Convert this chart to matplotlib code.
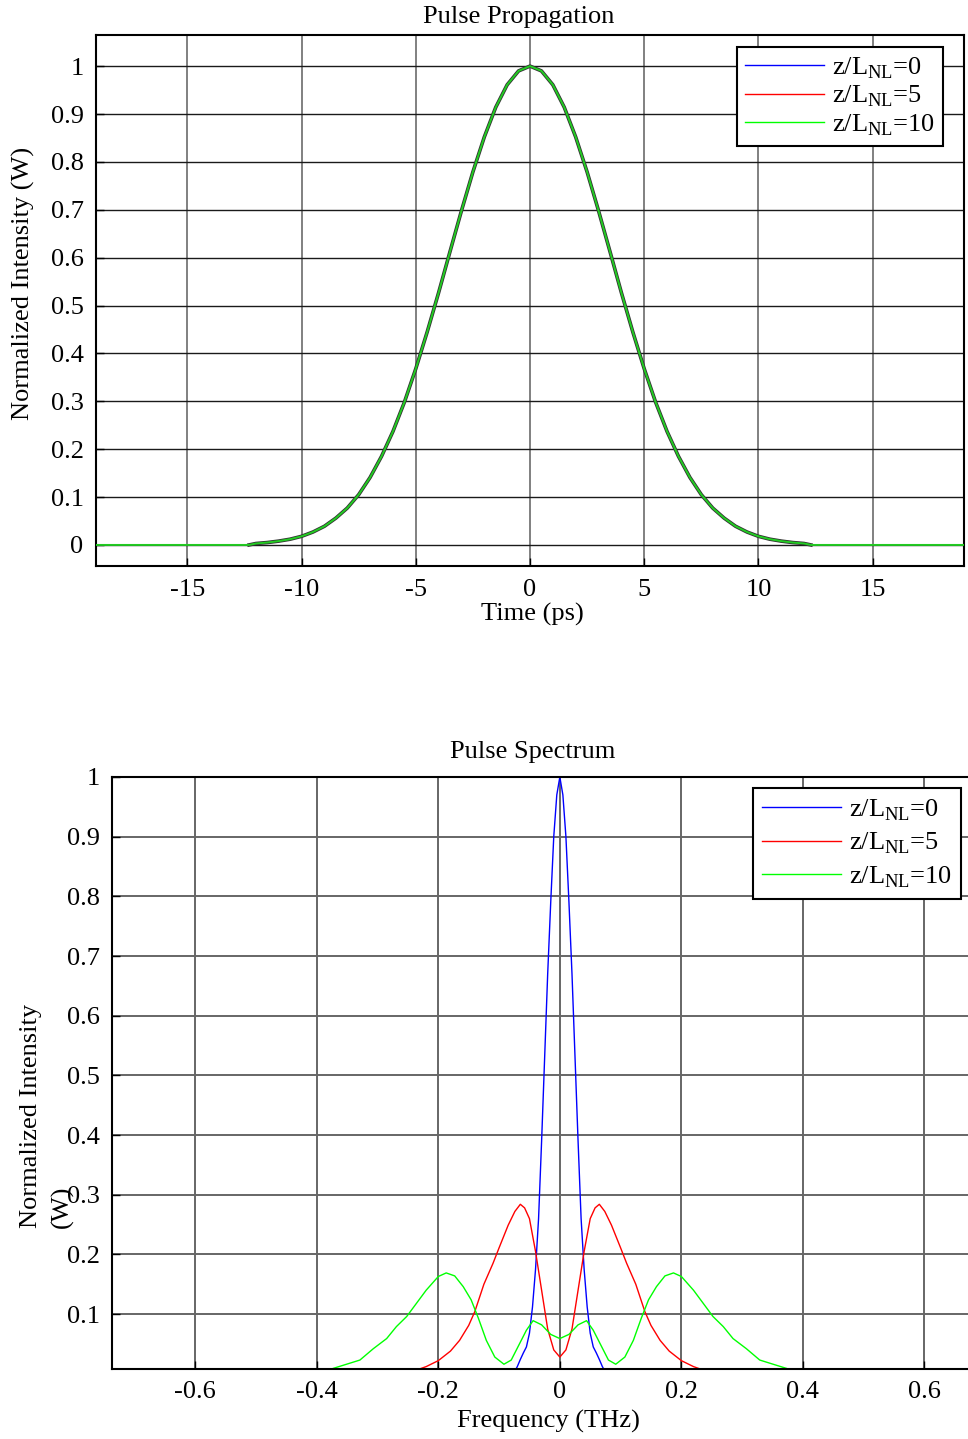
import numpy as np
import matplotlib
matplotlib.use("Agg")
import matplotlib.pyplot as plt

plt.rcParams['font.family'] = ['Liberation Serif', 'DejaVu Serif']
plt.rcParams['mathtext.fontset'] = 'custom'
plt.rcParams['mathtext.rm'] = 'Liberation Serif'

# ---- data (curves are symmetric, so half + mirror) ----
t_half = [0, 0.5, 1, 1.5, 2, 2.5, 3, 3.5, 4, 4.5, 5, 5.5, 6, 6.5, 7, 7.5,
          8, 8.5, 9, 9.5, 10, 10.5, 11, 11.5, 12, 12.3]
p_half = [1.0, 0.990, 0.961, 0.914, 0.852, 0.779, 0.698, 0.613, 0.527, 0.445,
          0.368, 0.298, 0.237, 0.185, 0.141, 0.105, 0.077, 0.056, 0.039, 0.027,
          0.018, 0.012, 0.008, 0.005, 0.003, 0.0]
t_edge = [19.0]   # the z/LNL=10 trace runs on flat to the window edge
p_edge = [0.0]

f_blue = [0, 0.005, 0.01, 0.015, 0.02, 0.025, 0.03, 0.035, 0.04, 0.045,
          0.05, 0.055, 0.06, 0.065, 0.07, 0.075]
s_blue = [1.0, 0.97, 0.90, 0.79, 0.67, 0.53, 0.39, 0.26, 0.175, 0.112,
          0.068, 0.045, 0.035, 0.024, 0.012, 0.003]

f_red = [0, 0.01, 0.02, 0.03, 0.04, 0.05, 0.058, 0.065, 0.074, 0.085, 0.10,
         0.11, 0.125, 0.14, 0.15, 0.165, 0.18, 0.20, 0.22, 0.242]
s_red = [0.028, 0.040, 0.075, 0.14, 0.205, 0.26, 0.278, 0.284, 0.272, 0.249,
         0.211, 0.185, 0.150, 0.104, 0.081, 0.056, 0.038, 0.022, 0.012, 0.004]

f_green = [0, 0.015, 0.03, 0.044, 0.055, 0.066, 0.08, 0.092, 0.107, 0.121,
           0.134, 0.146, 0.159, 0.173, 0.187, 0.20, 0.22, 0.236, 0.252, 0.269,
           0.285, 0.307, 0.329, 0.351, 0.373, 0.389]
s_green = [0.059, 0.066, 0.082, 0.089, 0.073, 0.051, 0.023, 0.016, 0.028, 0.056,
           0.093, 0.124, 0.146, 0.164, 0.169, 0.163, 0.140, 0.118, 0.096, 0.079,
           0.059, 0.042, 0.023, 0.016, 0.009, 0.003]

labels = [r'z/L$_{\rm NL}$=0', r'z/L$_{\rm NL}$=5', r'z/L$_{\rm NL}$=10']
colors = ['#0000ff', '#ff0000', '#00ff00']
t_ticks = [-15, -10, -5, 0, 5, 10, 15]
f_ticks = [-0.6, -0.4, -0.2, 0, 0.2, 0.4, 0.6]


def mirror(x, y):
    x = np.asarray(x, float)
    y = np.asarray(y, float)
    return np.concatenate([-x[::-1], x[1:]]), np.concatenate([y[::-1], y[1:]])


def tick_label(v):
    return f"{v:g}"


FS = 19
W, H = 968, 1439
fig = plt.figure(figsize=(W / 100, H / 100), dpi=100)

# ---------------- top: pulse propagation ----------------
ax1 = fig.add_axes([96 / W, 1 - 566 / H, 868 / W, 531 / H])
t, p = mirror(t_half, p_half)
tg, pg = mirror(t_half + t_edge, p_half + p_edge)
# the three traces sit on top of each other; dark rim + green core like the original
ax1.plot(t, p, color='#333333', lw=2.6, zorder=3)
ax1.plot(t, p, color=colors[0], lw=0.1, label=labels[0], zorder=3)
ax1.plot(t, p, color=colors[1], lw=0.1, label=labels[1], zorder=3)
ax1.plot(tg, pg, color='#22cc22', lw=1.4, label=labels[2], zorder=4)
ax1.set_xlim(-19, 19)
ax1.set_ylim(-0.044, 1.065)
ax1.set_xticks(t_ticks)
ax1.set_xticklabels([tick_label(v) for v in t_ticks])
yt1 = np.round(np.arange(0, 1.01, 0.1), 1)
ax1.set_yticks(yt1)
ax1.set_yticklabels([tick_label(v) for v in yt1])
ax1.xaxis.grid(True, color='0.5', lw=1.4)
ax1.yaxis.grid(True, color='0.1', lw=1.0)
ax1.set_axisbelow(True)
leg1 = ax1.legend(loc='upper right', bbox_to_anchor=(0.976, 0.977), borderaxespad=0,
                  fontsize=FS, fancybox=False, edgecolor='black', framealpha=1,
                  handlelength=3.0, handletextpad=0.3, labelspacing=0.12,
                  borderpad=0.3)
leg1.get_frame().set_linewidth(1.5)
for line, c in zip(leg1.get_lines(), colors):
    line.set_color(c)
    line.set_linewidth(1.0)

# ---------------- bottom: pulse spectrum ----------------
ax2 = fig.add_axes([112 / W, 1 - 1369 / H, 858 / W, 592 / H])
for fx, sy, c, lab in [(f_blue, s_blue, colors[0], labels[0]),
                       (f_red, s_red, colors[1], labels[1]),
                       (f_green, s_green, colors[2], labels[2])]:
    xx, yy = mirror(fx, sy)
    ax2.plot(xx, yy, color=c, lw=1.0, label=lab)
ax2.set_xlim(-0.737, 0.675)
ax2.set_ylim(0.008, 1.0)
ax2.set_xticks(f_ticks)
ax2.set_xticklabels([tick_label(v) for v in f_ticks])
yt2 = np.round(np.arange(0.1, 1.01, 0.1), 1)
ax2.set_yticks(yt2)
ax2.set_yticklabels([tick_label(v) for v in yt2])
ax2.grid(True, color='0.4', lw=1.4)
ax2.set_axisbelow(True)
leg2 = ax2.legend(loc='upper right', bbox_to_anchor=(0.99, 0.981), borderaxespad=0,
                  fontsize=FS, fancybox=False, edgecolor='black', framealpha=1,
                  handlelength=3.0, handletextpad=0.3, labelspacing=0.3,
                  borderpad=0.35)
leg2.get_frame().set_linewidth(1.5)

for ax in (ax1, ax2):
    ax.tick_params(direction='in', length=6, width=1, labelsize=FS, pad=9)
    for sp in ax.spines.values():
        sp.set_linewidth(1.5)

# ---------------- titles and labels ----------------
fig.text(519 / W, 1 - 17 / H, 'Pulse Propagation', ha='center', va='center', fontsize=FS)
fig.text(532 / W, 1 - 614 / H, 'Time (ps)', ha='center', va='center', fontsize=FS)
fig.text(23 / W, 1 - 283 / H, 'Normalized Intensity (W)', rotation=90,
         ha='center', va='center', fontsize=FS)
fig.text(533 / W, 1 - 752 / H, 'Pulse Spectrum', ha='center', va='center', fontsize=FS)
fig.text(548 / W, 1 - 1421 / H, 'Frequency (THz)', ha='center', va='center', fontsize=FS)
# wrapped y label: the "(W)" line runs into the 0.3 tick label in the original too
fig.text(31 / W, 1 - 1228 / H, 'Normalized Intensity', rotation=90,
         ha='center', va='bottom', fontsize=FS)
fig.text(62 / W, 1 - 1228 / H, '(W)', rotation=90,
         ha='center', va='bottom', fontsize=FS)

fig.savefig('out.png', dpi=100)
